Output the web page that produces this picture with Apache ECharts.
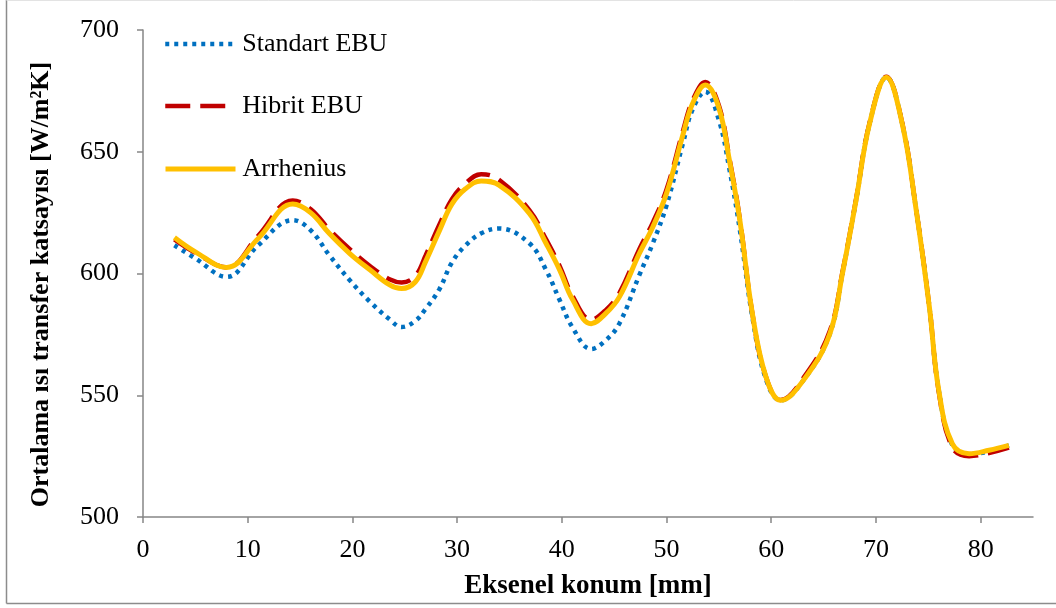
<!DOCTYPE html>
<html>
<head>
<meta charset="utf-8">
<script src="https://cdn.jsdelivr.net/npm/echarts@6/dist/echarts.min.js"></script>
<style>
  html, body { margin: 0; padding: 0; background: #fff; }
  #chart { width: 1056px; height: 608px; }
</style>
</head>
<body>
<div id="chart"></div>
<script>
// axial position [mm]
const positions = [3, 5, 8, 11, 14.3, 16, 17.8, 19.75, 21.7, 23.6, 24.7, 26, 27, 28.3, 29.5, 30.8, 32.3, 34, 36.9, 38.5, 39.8, 41, 42.8, 44.2, 45.5, 47.4, 48.7, 50, 51.6, 52.5, 53.7, 55, 56, 57, 58.2, 59.5, 60.9, 63.3, 65.6, 66.8, 68.1, 69.4, 71, 72.5, 73.8, 75.1, 76, 77.3, 78.9, 80.8, 82.7];

const standartEBU = [611.6, 606.2, 598.6, 611.6, 621.9, 617.8, 607.5, 597.2, 588.3, 581, 578, 580.5, 585.5, 593.5, 604.5, 611.5, 616.5, 618.5, 612.4, 601.4, 589, 578, 569, 572.6, 579.5, 599.3, 612.5, 628, 654, 667.5, 674.7, 663, 643, 618, 582, 556.5, 547.9, 557.5, 575.3, 600, 630, 661.7, 680.6, 661.7, 627.4, 586.3, 552, 529.5, 525.8, 527, 529.4];

const hibritEBU = [614, 608.5, 602.5, 615.5, 630, 626.5, 618, 610, 603, 597.5, 596.3, 599, 607.5, 620, 630.5, 637, 640.8, 638.5, 626, 614, 603, 591, 581, 585, 592, 610, 621, 634.5, 659, 671.2, 678.6, 669, 647.5, 622.5, 583.5, 557.5, 548, 558.5, 576.5, 600.5, 630.5, 662, 680.8, 662, 627.5, 586.5, 551.5, 528.5, 525, 526.3, 528.5];

const arrhenius = [614.8, 608.9, 602.5, 614.4, 628.5, 625, 616.4, 608.2, 601.4, 595.2, 593.8, 596.5, 605, 617.5, 628.5, 634.8, 638, 636.3, 624.7, 612.3, 601.4, 589.5, 579.4, 583.6, 590.4, 608.2, 619.2, 632.9, 657.5, 669.9, 677.4, 668, 646.6, 621.9, 583.5, 557.5, 547.9, 557.5, 575.3, 600, 630.1, 661.7, 680.6, 661.7, 627.4, 586.3, 552, 530, 526, 527.4, 529.4];

const xTicks = [0, 10, 20, 30, 40, 50, 60, 70, 80];

const pairs = ys => positions.map((x, i) => [x, ys[i]]);
const font = "'Liberation Serif', 'Times New Roman', serif";
const axisGray = "#868686";

const chart = echarts.init(document.getElementById("chart"));

function legendAt(name, top, lineWidth) {
  return {
    data: [name],
    orient: "vertical",
    left: 158,
    top: top,
    itemWidth: 70,
    itemHeight: 14,
    itemGap: 8,
    selectedMode: false,
    itemStyle: { color: "rgba(0,0,0,0)", borderWidth: 0 },
    lineStyle: { width: lineWidth },
    textStyle: { fontFamily: font, fontSize: 26, color: "#000", padding: [0, 0, 0, 2] }
  };
}

chart.setOption({
  animation: false,
  textStyle: { fontFamily: font },
  grid: { left: 143, right: 23, top: 30, bottom: 91, outerBoundsMode: "none", containLabel: false },
  legend: [
    legendAt("Standart EBU", 26, 4.5),
    legendAt("Hibrit EBU", 88, 4.5),
    legendAt("Arrhenius", 151, 5)
  ],
  xAxis: {
    type: "value",
    min: 0,
    max: 85,
    interval: 10,
    name: "Eksenel konum [mm]",
    nameLocation: "middle",
    nameGap: 56,
    nameTextStyle: { fontFamily: font, fontSize: 27, fontWeight: "bold", color: "#000" },
    splitLine: { show: false },
    axisLine: { lineStyle: { color: axisGray, width: 1.5 } },
    axisTick: { show: true, length: 6, lineStyle: { color: axisGray, width: 1.5 }, customValues: xTicks },
    axisLabel: { fontFamily: font, fontSize: 26, color: "#000", margin: 20, customValues: xTicks }
  },
  yAxis: {
    type: "value",
    min: 500,
    max: 700,
    interval: 50,
    name: "Ortalama ısı transfer katsayısı [W/m²K]",
    nameLocation: "middle",
    nameGap: 89,
    nameTextStyle: { fontFamily: font, fontSize: 26, fontWeight: "bold", color: "#000", padding: [0, 22, 0, 0] },
    splitLine: { show: false },
    axisLine: { show: true, lineStyle: { color: axisGray, width: 1.5 } },
    axisTick: { show: true, length: 6, lineStyle: { color: axisGray, width: 1.5 } },
    axisLabel: { fontFamily: font, fontSize: 26, color: "#000", margin: 24 }
  },
  graphic: [
    { type: "line", shape: { x1: 6.5, y1: 0, x2: 6.5, y2: 603.5 }, style: { stroke: "#8c8c8c", lineWidth: 1.5 } },
    { type: "line", shape: { x1: 6.5, y1: 603.5, x2: 1056, y2: 603.5 }, style: { stroke: "#8c8c8c", lineWidth: 1.5 } },
    { type: "line", shape: { x1: 6.5, y1: 0.5, x2: 1056, y2: 0.5 }, style: { stroke: "#e3e3e3", lineWidth: 1 } }
  ],
  series: [
    {
      name: "Standart EBU",
      type: "line",
      smooth: 0.4,
      symbol: "none",
      lineStyle: { color: "#0070C0", width: 4.5, type: [4, 5], cap: "butt" },
      itemStyle: { color: "#0070C0" },
      data: pairs(standartEBU),
      z: 2
    },
    {
      name: "Hibrit EBU",
      type: "line",
      smooth: 0.4,
      symbol: "none",
      lineStyle: { color: "#C00000", width: 4.5, type: [25, 10], cap: "butt" },
      itemStyle: { color: "#C00000" },
      data: pairs(hibritEBU),
      z: 3
    },
    {
      name: "Arrhenius",
      type: "line",
      smooth: 0.4,
      symbol: "none",
      lineStyle: { color: "#FFC000", width: 5 },
      itemStyle: { color: "#FFC000" },
      data: pairs(arrhenius),
      z: 4
    }
  ]
});
</script>
</body>
</html>
